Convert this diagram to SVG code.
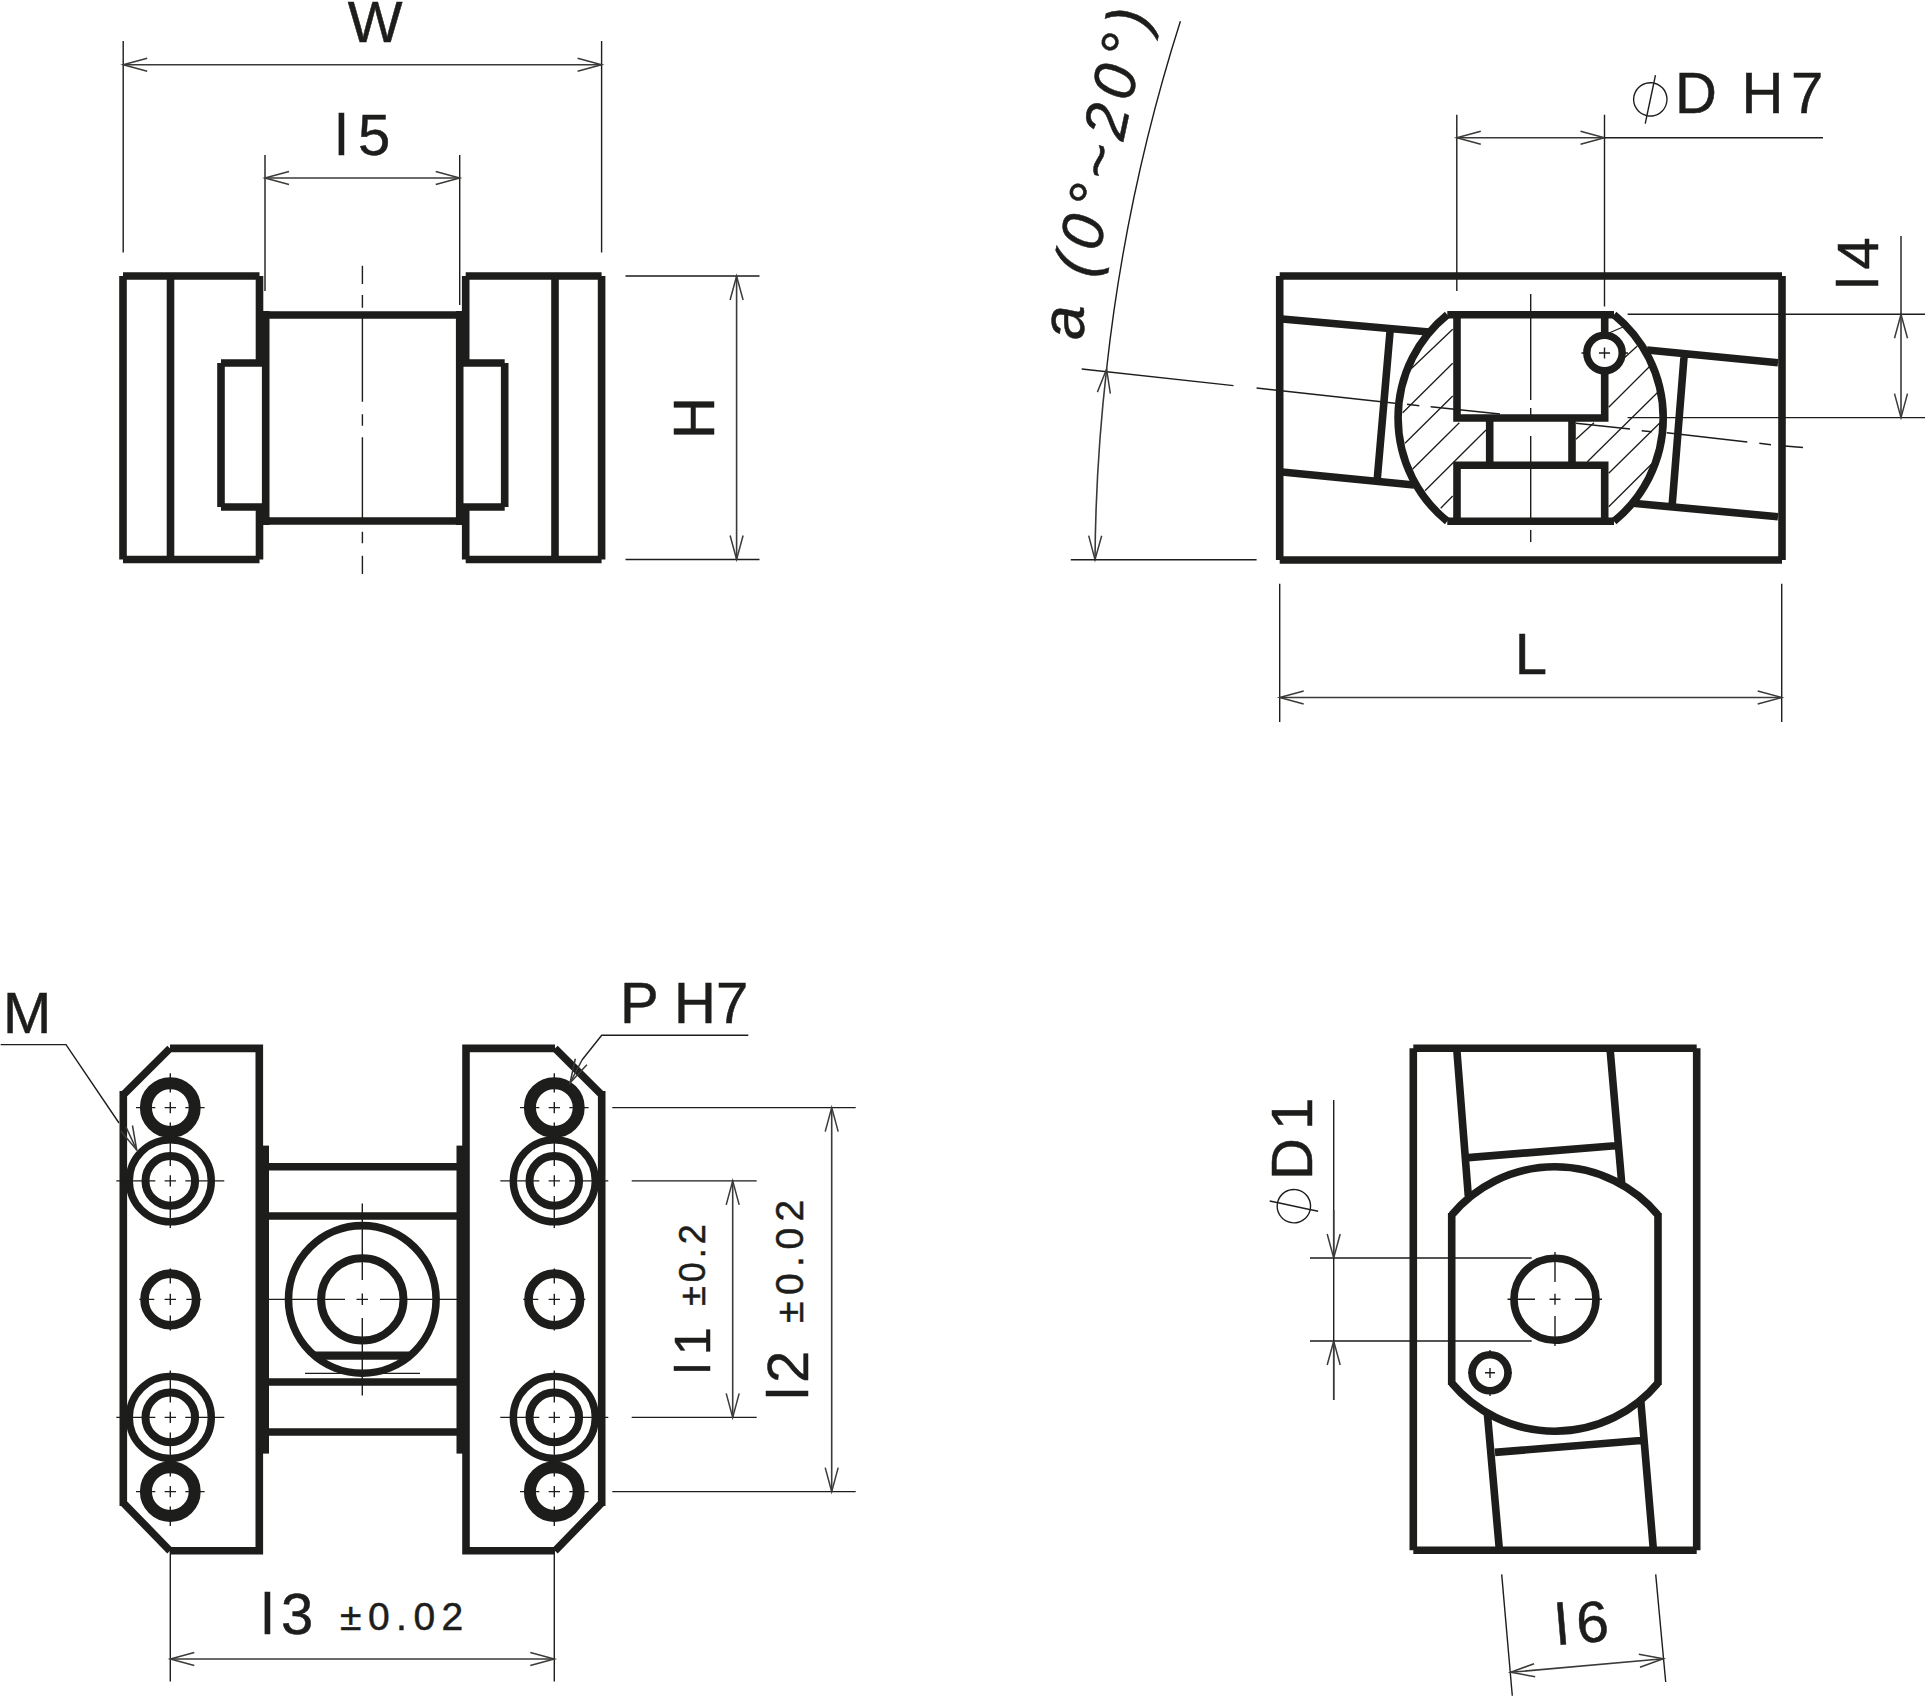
<svg xmlns="http://www.w3.org/2000/svg" width="1925" height="1697" viewBox="0 0 1925 1697">
<style>
.o{fill:none;stroke:#1d1d1b;stroke-width:7.6;stroke-linecap:butt;stroke-linejoin:miter}
.t{fill:none;stroke:#1d1d1b;stroke-width:1.4}
.h{fill:none;stroke:#1d1d1b;stroke-width:1.3}
.d{fill:none;stroke:#3a3a38;stroke-width:1.6;marker-start:url(#a);marker-end:url(#a)}
.e{fill:none;stroke:#3a3a38;stroke-width:1.6;marker-end:url(#a)}
text{font-family:"Liberation Sans",Arial,sans-serif;fill:#1d1d1b;stroke:#1d1d1b;stroke-width:.5;font-size:58px}
.s{font-size:39px;letter-spacing:6.5px}
.p{font-family:Inter,"Liberation Sans",sans-serif;font-weight:100;font-size:62px;stroke:none}
</style>
<defs>
<marker id="a" markerUnits="userSpaceOnUse" markerWidth="30" markerHeight="18" refX="26" refY="9" orient="auto-start-reverse" overflow="visible">
<path d="M2,2.5 L26,9 L2,15.5" fill="none" stroke="#3a3a38" stroke-width="1.5"/>
</marker>
<g id="hole-a">
<circle r="24.4" class="o" style="stroke-width:12"/>
<path class="t" d="M-5.7,0H5.7M0,-5.7V5.7M-34.3,0H-15M15,0H34.3M0,-34.3V-15M0,15V34.3"/>
</g>
<g id="hole-b">
<circle r="41" class="o" style="fill:#fff;stroke-width:7.4"/><circle r="24.8" class="o" style="stroke-width:8"/>
<path class="t" d="M-5.7,0H5.7M0,-5.7V5.7M-54,0H-15M15,0H54M0,-47V-15M0,15V47"/>
</g>
<g id="hole-c">
<circle r="25.8" class="o" style="stroke-width:8.6"/>
<path class="t" d="M-5.7,0H5.7M0,-5.7V5.7M-31,0H-16M16,0H31M0,-31V-16M0,16V31"/>
</g>
</defs>

<g id="front-view">
<path class="o" d="M123,276H259.5M123,559.5H259.5M123,276V559.5M259.5,276V363M259.5,507V559.5M170.5,276V559.5M221,363H266M221,507H266M221,363V507"/>
<path class="o" d="M465.7,276H601.6M465.7,559.5H601.6M601.6,276V559.5M465.7,276V363M465.7,507V559.5M555,276V559.5M460,363H504.7M460,507H504.7M504.7,363V507"/>
<path class="o" d="M264,315H463M264,521H463M265.7,311V525M459.7,311V525"/>
<path class="t" d="M362.4,265.7V284M362.4,295V307.7M362.4,318V401.7M362.4,414.3V425.7M362.4,437.3V518M362.4,531.7V543.3M362.4,555.7V574"/>
</g>

<g id="section-view">
<path class="o" d="M1279.7,276H1782M1279.7,276V560M1782,276V560M1279.7,560H1782"/>
<path class="o" d="M1282,319L1429,332M1282,472L1414,485M1390,332L1377.3,478.5M1647,350L1778,362.7M1633,503.3L1778,516.7M1684,357.3L1672.3,503.3"/>
<path class="h" d="M1411.7,368.3L1452.7,329.3M1402.7,412.7L1452.7,363.3M1405,443.3L1452.7,396M1412.7,469L1459.3,422.7M1425,490.7L1486,430M1440.7,508.3L1452.7,496M1609,333L1623,327M1625,357.3L1637.3,346M1608.7,407.3L1649.3,366.7M1576,439.3L1594,422.7M1587.3,461.7L1657.3,392.7M1608.7,473.3L1660,422.7M1608.7,506.7L1651.7,464"/>
<path class="o" d="M1447.3,314.7A133,133 0 0 0 1447.3,521.3M1614,314.7A133,133 0 0 1 1614,521.3"/>
<path class="o" d="M1447.3,314.7H1614M1447.3,521.3H1614M1457,314.7V418H1604.7V314.7M1457,521.3V465.3H1604.7V521.3M1489.7,418V465.3M1572,418V465.3"/>
<circle cx="1604.5" cy="353" r="17.7" class="o" style="fill:#fff;stroke-width:7.4"/>
<path class="t" d="M1599,353H1610M1604.5,347.5V358.5M1581.5,353H1590M1619,353H1628"/>
<path class="t" d="M1530.7,294V400M1530.7,408V415M1530.7,436V518M1530.7,530V542"/>
<path class="t" d="M1081.7,369L1233.5,385.6M1256.6,388L1395,403.3M1407,404.3L1419.3,405.7M1430.7,406.7L1500,414M1576,423.3L1630,429M1641.7,430.7L1651.7,431.7M1666.7,432.7L1747.3,442M1759.3,443.3L1771,444.7M1781.7,445.7L1803,447.5"/>
</g>

<g id="bottom-view">
<path class="o" d="M123.3,1094.9L170,1048.4M123.3,1502.9L170,1550.8M123.3,1091V1506M170,1048.4H259.3M170,1550.8H259.3M259.3,1044.6V1554.6"/>
<rect x="260" y="1145.6" width="9" height="308" fill="#1d1d1b"/>
<rect x="456.5" y="1145.6" width="9" height="308" fill="#1d1d1b"/>
<path class="o" d="M601.7,1094.9L555,1048.4M601.7,1502.9L555,1550.8M601.7,1091V1506M555,1048.4H466M555,1550.8H466M466,1044.6V1554.6"/>
<path class="o" d="M269,1166.8H457M269,1216H457M269,1382H457M269,1432H457"/>
<circle cx="362.3" cy="1299.4" r="73.8" class="o"/>
<circle cx="362.3" cy="1299.4" r="41.2" class="o" style="stroke-width:8"/>
<path class="o" d="M315,1355.7H409.3" style="stroke-width:8.3"/>
<path class="t" d="M305,1373.4H420"/>
<path class="t" d="M356.5,1299.4H368M362.3,1293.6V1305M269,1299.4H345M380,1299.4H457M362.3,1203.4V1280M362.3,1318V1395.6"/>
<use href="#hole-a" x="170.3" y="1107.6"/><use href="#hole-b" x="170.3" y="1180.9"/><use href="#hole-c" x="170.3" y="1299.4"/><use href="#hole-b" x="170.3" y="1417.4"/><use href="#hole-a" x="170.3" y="1491.6"/>
<use href="#hole-a" x="554.3" y="1107.6"/><use href="#hole-b" x="554.3" y="1180.9"/><use href="#hole-c" x="554.3" y="1299.4"/><use href="#hole-b" x="554.3" y="1417.4"/><use href="#hole-a" x="554.3" y="1491.6"/>
</g>

<g id="side-view">
<path class="o" d="M1413.3,1048.3H1696.7M1413.3,1048.3V1550.2M1696.7,1048.3V1550.2M1413.3,1550.2H1696.7"/>
<path class="o" d="M1456.7,1048.3L1468.3,1196M1610,1048.3L1621.7,1183M1468.3,1157.6L1615,1145.7M1487.3,1412.8L1499.3,1548.9M1640.7,1400L1653.3,1548.9M1495,1452.4L1640.7,1440.5"/>
<path class="o" d="M1451.7,1215A134.5,134.5 0 0 1 1658,1215M1451.7,1383A134.5,134.5 0 0 0 1658,1383M1451.7,1213V1385M1658,1213V1385"/>
<circle cx="1555" cy="1299.2" r="41" class="o"/>
<path class="t" d="M1549.5,1299.2H1560.5M1555,1293.7V1304.7M1507.5,1299.2H1535M1575,1299.2H1602M1555,1252V1282M1555,1316V1346"/>
<circle cx="1490" cy="1372.8" r="18" class="o"/>
<path class="t" d="M1485,1372.8H1495M1490,1368V1378M1468,1372.8H1473M1507,1372.8H1512M1490,1350V1355M1490,1391V1396"/>
</g>

<g id="connectors">
<path class="t" d="M123.2,41V252.6M601.6,41V252.6M265,155V291M459.7,155V305M625.5,276H759.5M625.5,559.5H759.5"/>
<path class="d" d="M123.2,64.7H601.6"/>
<path class="d" d="M265,178H459.7"/>
<path class="d" d="M736.6,276V559.5"/>
<path class="t" d="M1456.8,114.7V291M1604.5,114.7V306.5M1627.6,314.3H1925M1627.6,417.6H1925M1901,236V314"/>
<path class="d" d="M1456.8,137.8H1604.5"/><path class="t" d="M1604.5,137.8H1823"/>
<path class="d" d="M1901,314.3V417.6"/>
<path class="t" d="M1180.4,21.2A1785,1785 0 0 0 1106.6,369"/>
<path class="d" d="M1106.6,369A1785,1785 0 0 0 1095,559.7"/>
<path class="t" d="M1070.8,559.7H1256.6M1279.7,583.8V722M1781.7,583.8V722"/>
<path class="d" d="M1279.7,697.5H1781.7"/>
<path class="t" d="M0.7,1044.6H66L119,1123"/><path class="e" d="M126,1127L136.7,1150"/>
<path class="t" d="M748.3,1035.2H601.7L582,1060"/><path class="e" d="M582,1060L570,1083"/>
<path class="t" d="M612.3,1107.6H855.7M612.3,1491.6H855.7M631.7,1180.9H756.7M631.7,1417.4H756.7"/>
<path class="d" d="M831.7,1107.6V1491.6"/>
<path class="d" d="M732.7,1180.9V1417.4"/>
<path class="t" d="M170.3,1550.8V1681.5M554.3,1550.8V1681.5"/>
<path class="d" d="M170.3,1659H554.3"/>
<path class="t" d="M1310,1258H1531.7M1310,1341H1531.7M1333.7,1100V1258M1333.7,1341V1400"/>
<path class="e" d="M1333.7,1210V1258"/><path class="e" d="M1333.7,1400V1341"/>
<path class="t" d="M1333.7,1258V1341"/>
<path class="t" d="M1501.7,1574.4L1512.3,1695.7M1655.7,1574.4L1665.7,1682"/>
<path class="d" d="M1510.7,1672.3L1663.3,1658.7"/>
</g>

<g id="labels">
<text x="375" y="42" text-anchor="middle">W</text>
<text x="335 358" y="155">l5</text>
<text transform="translate(713.6,418) rotate(-90)" text-anchor="middle">H</text>
<text transform="translate(1083.5,340) rotate(-90)" font-style="italic" style="font-size:62px">a</text>
<text transform="translate(1094,279) rotate(-78)" font-style="italic" style="font-size:60px;letter-spacing:7px">(0°~20°)</text>
<text class="p" transform="translate(1647.5,95) rotate(-33)" text-anchor="middle" y="22">∅</text>
<text x="1675 1741.5 1791" y="113">DH7</text>
<text transform="translate(1878,289.5) rotate(-90)" x="0 20">l4</text>
<text x="1531" y="674" text-anchor="middle">L</text>
<text x="3" y="1033">M</text>
<text x="620 674 716" y="1022.5">PH7</text>
<text transform="translate(710,1374) rotate(-90)" x="0 19" style="font-size:50px">l1</text>
<text transform="translate(705,1306) rotate(-90)" style="font-size:36px;letter-spacing:4px">±0.2</text>
<text transform="translate(808,1400) rotate(-90)" x="0 17">l2</text>
<text class="s" transform="translate(803,1323) rotate(-90)">±0.02</text>
<text x="261 281" y="1634.4">l3</text>
<text class="s" x="340" y="1629.6">±0.02</text>
<text class="p" transform="translate(1289.5,1209) rotate(-123)" text-anchor="middle" y="22">∅</text>
<text transform="translate(1311.7,1180) rotate(-90)" x="0 50">D1</text>
<text transform="translate(1557,1645) rotate(-5)" x="0 21">l6</text>
</g>
</svg>
